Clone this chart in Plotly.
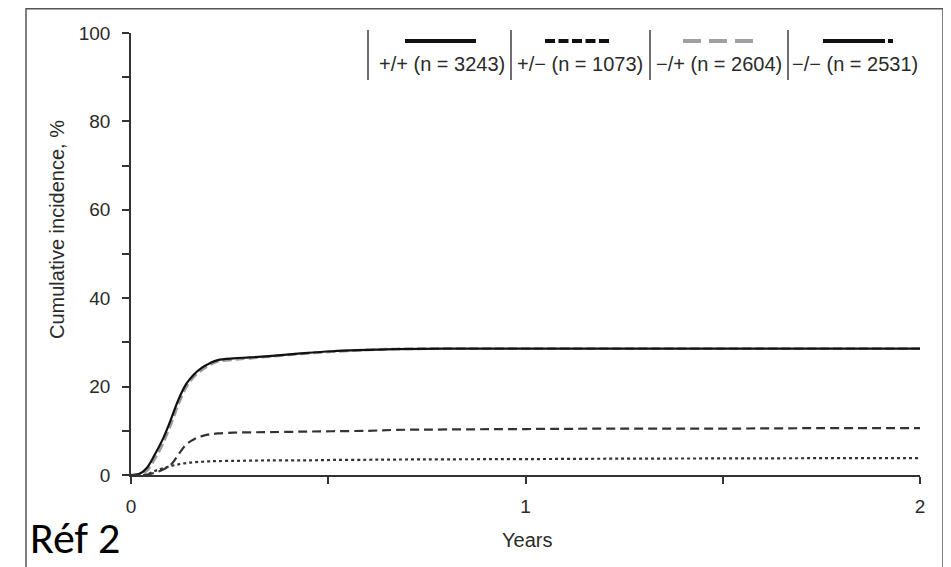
import plotly.graph_objects as go

# ---- data ----
years = [0, 0.02, 0.04, 0.06, 0.08, 0.10, 0.12, 0.14, 0.16, 0.18, 0.20, 0.22, 0.26, 0.30, 0.35, 0.43, 0.51, 0.60, 0.67, 0.80, 1.0, 1.25, 1.5, 1.75, 2.0]
pp = [0, 0.2, 1.6, 4.6, 8.0, 12.3, 17.0, 20.6, 22.8, 24.3, 25.3, 26.0, 26.4, 26.6, 26.9, 27.5, 28.0, 28.3, 28.5, 28.6, 28.6, 28.6, 28.6, 28.6, 28.6]
pm = [0, 0, 0.1, 0.5, 1.2, 2.2, 4.6, 6.9, 8.1, 8.8, 9.2, 9.4, 9.6, 9.65, 9.7, 9.8, 9.9, 10.0, 10.2, 10.3, 10.4, 10.5, 10.5, 10.6, 10.6]
mp = [0, 0.1, 1.0, 3.6, 7.0, 11.2, 16.0, 19.9, 22.3, 23.8, 24.9, 25.7, 26.1, 26.4, 26.8, 27.4, 27.9, 28.3, 28.5, 28.6, 28.6, 28.6, 28.6, 28.6, 28.6]
mm = [0, 0, 0.1, 0.9, 1.5, 2.0, 2.4, 2.7, 2.9, 3.0, 3.1, 3.15, 3.2, 3.25, 3.3, 3.3, 3.4, 3.45, 3.5, 3.55, 3.6, 3.7, 3.75, 3.8, 3.8]

labels = ["+/+ (n = 3243)", "+/\u2212 (n = 1073)", "\u2212/+ (n = 2604)", "\u2212/\u2212 (n = 2531)"]
y_ticks = [0, 20, 40, 60, 80, 100]
x_ticks = [0, 1, 2]

# ---- styling ----
W, H = 951, 567
OFF = 8  # page body margin offset
PL, PR, PT, PB = 131, 920, 33, 475  # target plot area in screenshot pixels
L, T = PL - OFF, PT - OFF
pw, ph = PR - PL, PB - PT
R, B = W - L - pw, H - T - ph

def px2x(px):
    return (px - PL) / pw

def px2y(py):
    return (PB - py) / ph

FONT = "Liberation Sans, Arial, sans-serif"
TXT = "#2a2a2a"

fig = go.Figure()
series = [
    (pp, labels[0], dict(color="#111111", width=2.2, dash="solid")),
    (pm, labels[1], dict(color="#333333", width=2.2, dash="9px,5px")),
    (mp, labels[2], dict(color="#9a9a9a", width=2.8, dash="9px,4px")),
    (mm, labels[3], dict(color="#333333", width=2.2, dash="3px,3px")),
]
for idx in [2, 0, 1, 3]:
    ys, name, ln = series[idx]
    fig.add_trace(go.Scatter(x=years, y=ys, mode="lines", name=name, line=ln,
                             line_shape="spline", showlegend=False))

shapes = []
# outer frame
shapes.append(dict(type="rect", xref="paper", yref="paper",
                   x0=px2x(26), x1=px2x(943), y0=px2y(590), y1=px2y(8.8),
                   line=dict(color="#555555", width=1.5), layer="below"))
# custom legend
seps = [368, 511, 650, 788]
for s in seps:
    shapes.append(dict(type="line", xref="paper", yref="paper",
                       x0=px2x(s), x1=px2x(s), y0=px2y(30), y1=px2y(80),
                       line=dict(color="#222222", width=1.3)))
samples = [
    (405, 476, dict(color="#111111", width=4, dash="solid")),
    (545, 610, dict(color="#111111", width=4, dash="10px,3.5px")),
    (683, 754, dict(color="#a0a0a0", width=4, dash="18px,8px")),
    (823, 896, dict(color="#111111", width=4, dash="62px,3px,5px,40px")),
]
for x0, x1, ln in samples:
    shapes.append(dict(type="line", xref="paper", yref="paper",
                       x0=px2x(x0), x1=px2x(x1), y0=px2y(41), y1=px2y(41), line=ln))

annotations = []
centers = [442, 580, 719, 855]
for c, lab in zip(centers, labels):
    annotations.append(dict(text=lab, xref="paper", yref="paper", x=px2x(c), y=px2y(64),
                            showarrow=False, xanchor="center", yanchor="middle",
                            font=dict(family=FONT, size=20, color=TXT)))
# axis titles
annotations.append(dict(text="Cumulative incidence, %", xref="paper", yref="paper",
                        x=px2x(57), y=px2y(230), textangle=-90, showarrow=False,
                        xanchor="center", yanchor="middle",
                        font=dict(family=FONT, size=20, color=TXT)))
annotations.append(dict(text="Years", xref="paper", yref="paper",
                        x=px2x(527), y=px2y(540), showarrow=False,
                        xanchor="center", yanchor="middle",
                        font=dict(family=FONT, size=20, color=TXT)))
annotations.append(dict(text="Réf 2", xref="paper", yref="paper", x=px2x(29), y=px2y(538),
                        showarrow=False, xanchor="left", yanchor="middle", borderpad=0,
                        font=dict(family="Carlito, Lato, Open Sans, sans-serif", size=44, color="#000000")))

fig.update_layout(
    width=W, height=H,
    margin=dict(l=L, r=R, t=T, b=B, autoexpand=False),
    paper_bgcolor="white", plot_bgcolor="white",
    shapes=shapes, annotations=annotations,
    showlegend=False,
    font=dict(family=FONT, color=TXT),
)
axis_common = dict(ticks="outside", ticklen=7, tickwidth=1.5, tickcolor="#333333",
                   showline=True, linecolor="#333333", linewidth=1.5,
                   showgrid=False, zeroline=False, automargin=False,
                   tickfont=dict(family=FONT, size=19, color=TXT))
fig.update_xaxes(range=[0, 2.0], tickvals=x_ticks, ticklabelstandoff=6,
                 minor=dict(dtick=0.5, tick0=0, ticks="outside", ticklen=7, tickwidth=1.5,
                            tickcolor="#333333", showgrid=False),
                 **axis_common)
fig.update_yaxes(range=[0, 100], tickvals=y_ticks, ticklabelstandoff=8,
                 minor=dict(dtick=10, tick0=0, ticks="outside", ticklen=7, tickwidth=1.5,
                            tickcolor="#333333", showgrid=False),
                 **axis_common)

fig.write_html("out.html")
